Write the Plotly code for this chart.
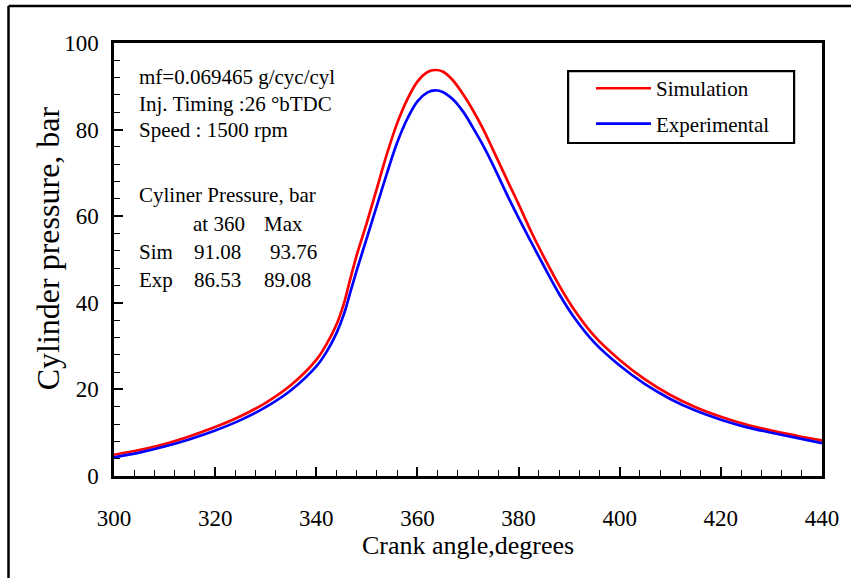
import plotly.graph_objects as go

# ---- data ----
crank_sim = [300, 305, 310, 315, 320, 325, 330, 335, 340, 342, 344, 345.5, 346.5, 348, 350, 352, 354, 356, 358,
             360, 362, 363.5, 365, 367, 369, 371, 373, 375, 378, 380, 382.5, 385, 388, 391, 395, 400, 405, 410,
             415, 420, 425, 430, 435, 440]
p_sim = [4.9, 6.0, 7.4, 9.2, 11.3, 13.8, 16.9, 21.0, 26.8, 30.4, 35.0, 40.0, 44.5, 51.0, 58.5, 66.5, 74.5, 81.5, 87.0,
         91.08, 93.3, 93.76, 93.4, 91.4, 88.2, 84.4, 80.1, 75.2, 67.7, 62.8, 56.4, 50.6, 44.1, 38.4, 32.3, 26.8, 22.3, 18.7,
         15.9, 13.7, 11.9, 10.5, 9.3, 8.2]
crank_exp = crank_sim
p_exp = [4.3, 5.4, 6.8, 8.5, 10.5, 12.9, 15.9, 19.8, 25.3, 28.6, 33.0, 37.5, 41.5, 47.5, 55.0, 62.5, 70.0, 77.0, 82.5,
         86.53, 88.6, 89.08, 88.7, 87.0, 84.2, 80.4, 76.3, 71.7, 64.3, 59.6, 54.0, 48.5, 42.1, 36.6, 30.8, 25.5, 21.2, 17.8,
         15.1, 13.0, 11.3, 10.0, 8.8, 7.6]

info_lines = ["mf=0.069465 g/cyc/cyl", "Inj. Timing :26 °bTDC", "Speed : 1500 rpm"]
table_title = "Cyliner Pressure, bar"
table_cols = ["at 360", "Max"]
table_rows = ["Sim", "Exp"]
p_at360 = [91.08, 86.53]
p_max = [93.76, 89.08]

x_ticks = [300, 320, 340, 360, 380, 400, 420, 440]
y_ticks = [0, 20, 40, 60, 80, 100]
x_title = "Crank angle,degrees"
y_title = "Cylinder pressure, bar"

FONT = "Liberation Serif"

fig = go.Figure()
fig.add_trace(go.Scatter(x=crank_sim, y=p_sim, mode="lines", name="Simulation",
                         line=dict(color="#FF0000", width=2.7, shape="spline", smoothing=1.0),
                         legendgroup="a"))
fig.add_trace(go.Scatter(x=crank_exp, y=p_exp, mode="lines", name="Experimental",
                         line=dict(color="#0000FF", width=2.7, shape="spline", smoothing=1.0),
                         legendgroup="b"))

anns = []
ys_info = [92.1, 85.9, 79.8]
for t, yy in zip(info_lines, ys_info):
    anns.append(dict(x=304.5, y=yy, text=t, xanchor="left", yanchor="middle", showarrow=False))
anns.append(dict(x=304.5, y=64.8, text=table_title, xanchor="left", yanchor="middle", showarrow=False))
anns.append(dict(x=315.2, y=58.2, text=table_cols[0], xanchor="left", yanchor="middle", showarrow=False))
anns.append(dict(x=329.3, y=58.2, text=table_cols[1], xanchor="left", yanchor="middle", showarrow=False))
row_y = [51.7, 45.2]
max_x = [330.4, 329.2]
for r, a, m, yy, mx in zip(table_rows, p_at360, p_max, row_y, max_x):
    anns.append(dict(x=304.5, y=yy, text=r, xanchor="left", yanchor="middle", showarrow=False))
    anns.append(dict(x=315.4, y=yy, text=f"{a:.2f}", xanchor="left", yanchor="middle", showarrow=False))
    anns.append(dict(x=mx, y=yy, text=f"{m:.2f}", xanchor="left", yanchor="middle", showarrow=False))
for a in anns:
    a["font"] = dict(family=FONT, size=21, color="black")
    a["xref"] = "x"
    a["yref"] = "y"

# y-axis title as rotated annotation
anns.append(dict(x=-0.0928, y=0.5266, xref="paper", yref="paper", text=y_title, textangle=-90,
                 xanchor="center", yanchor="middle", showarrow=False,
                 font=dict(family=FONT, size=32, color="black")))

axis_common = dict(showline=True, linecolor="black", linewidth=2.5, mirror=True,
                   ticks="inside", ticklen=9, tickwidth=1.5, tickcolor="black",
                   showgrid=False, zeroline=False,
                   tickfont=dict(family=FONT, size=23, color="black"))

fig.update_layout(
    width=851, height=578,
    margin=dict(l=114, r=26, t=43, b=102),
    paper_bgcolor="white", plot_bgcolor="white",
    font=dict(family=FONT, color="black"),
    xaxis=dict(range=[300, 440], tickvals=x_ticks, ticklabelstandoff=20,
               minor=dict(dtick=4, ticks="inside", ticklen=6, tickwidth=1.2, tickcolor="black"),
               title=dict(text=x_title, font=dict(family=FONT, size=26, color="black"), standoff=4),
               **axis_common),
    yaxis=dict(range=[0, 100], tickvals=y_ticks, ticklabelstandoff=8,
               minor=dict(dtick=4, ticks="inside", ticklen=6, tickwidth=1.2, tickcolor="black"),
               **axis_common),
    legend=dict(x=0.6737, y=0.942, xanchor="left", yanchor="top",
                borderwidth=0, bgcolor="rgba(0,0,0,0)",
                font=dict(family=FONT, size=21, color="black"),
                itemwidth=55, tracegroupgap=5, traceorder="grouped"),
    annotations=anns,
    shapes=[
        dict(type="line", xref="paper", yref="paper", x0=-0.149, x1=1.2, y0=1.0855, y1=1.0855,
             line=dict(color="black", width=2.5)),
        dict(type="line", xref="paper", yref="paper", x0=-0.149, x1=-0.149, y0=1.0855, y1=-0.3,
             line=dict(color="black", width=2.5)),
        dict(type="rect", xref="paper", yref="paper", x0=0.6414, x1=0.9606, y0=0.769, y1=0.935,
             line=dict(color="black", width=2.2), fillcolor="rgba(0,0,0,0)"),
    ],
)

fig.write_html("out.html")
